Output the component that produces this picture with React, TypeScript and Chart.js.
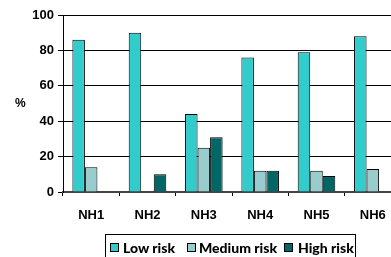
import React, { useEffect, useRef } from "react";
import { Chart, registerables } from "chart.js";

Chart.register(...registerables);

const categories = ["NH1", "NH2", "NH3", "NH4", "NH5", "NH6"];
const lowRisk = [86, 90, 44, 76, 79, 88];
const mediumRisk: (number | null)[] = [14, null, 25, 12, 12, 13];
const highRisk: (number | null)[] = [null, 10, 31, 12, 9, null];
const seriesNames = ["Low risk", "Medium risk", "High risk"];
const seriesColors = ["#33CCCC", "#99CCCC", "#006666"];
const yTicks = [0, 20, 40, 60, 80, 100];

export default function App() {
  const ref = useRef<HTMLCanvasElement | null>(null);
  useEffect(() => {
    if (!ref.current) return;
    const chart = new Chart(ref.current, {
      type: "bar",
      data: {
        labels: categories,
        datasets: [lowRisk, mediumRisk, highRisk].map((d, i) => ({
          label: seriesNames[i],
          data: d,
          backgroundColor: seriesColors[i],
          borderColor: "#000",
          borderWidth: 1,
          barPercentage: 1,
          categoryPercentage: 0.667,
        })),
      },
      options: {
        animation: false,
        responsive: false,
        layout: { padding: { left: 0, top: 15, right: 9, bottom: 0 } },
        plugins: { legend: { display: false }, tooltip: { enabled: false } },
        scales: {
          x: {
            grid: { drawOnChartArea: false, tickLength: 4, color: "#000", offset: true },
            border: { color: "#444", width: 2 },
            ticks: {
              font: { family: "'Liberation Sans', Arial", weight: "bold", size: 13 },
              color: "#000",
              padding: 12,
            },
            afterFit: (s: any) => {
              s.height = 65;
            },
          },
          y: {
            min: 0,
            max: 100,
            afterBuildTicks: (s: any) => {
              s.ticks = yTicks.map((v) => ({ value: v }));
            },
            grid: { color: "#000", tickLength: 5 },
            border: { color: "#000", width: 1 },
            ticks: {
              font: { family: "'Liberation Sans', Arial", weight: "bold", size: 13 },
              color: "#000",
              padding: 4,
            },
            afterFit: (s: any) => {
              s.width = 63;
            },
          },
        },
      },
    });
    return () => chart.destroy();
  }, []);

  const squareX = [110, 187, 284];
  const textX = [123, 199, 298];

  return (
    <div style={{ position: "fixed", left: 0, top: 0, width: 410, height: 257, background: "#fff" }}>
      <canvas ref={ref} width={410} height={257} style={{ width: 410, height: 257, display: "block" }} />
      <div
        style={{
          position: "absolute",
          left: 15,
          top: 96,
          fontFamily: "'Liberation Sans', Arial",
          fontWeight: 700,
          fontSize: 12,
          color: "#000",
        }}
      >
        %
      </div>
      <div
        style={{
          position: "absolute",
          left: 105,
          top: 234,
          width: 251,
          height: 30,
          border: "1px solid #000",
          boxSizing: "border-box",
        }}
      />
      {seriesNames.map((n, i) => (
        <React.Fragment key={n}>
          <div
            style={{
              position: "absolute",
              left: squareX[i],
              top: 243,
              width: 9,
              height: 9,
              boxSizing: "border-box",
              background: seriesColors[i],
              border: "1px solid #000",
            }}
          />
          <div
            style={{
              position: "absolute",
              left: textX[i],
              top: 239,
              lineHeight: "17px",
              fontFamily: "Lato, 'Open Sans', sans-serif",
              fontWeight: 900,
              fontSize: 14,
              color: "#000",
              whiteSpace: "nowrap",
            }}
          >
            {n}
          </div>
        </React.Fragment>
      ))}
    </div>
  );
}
